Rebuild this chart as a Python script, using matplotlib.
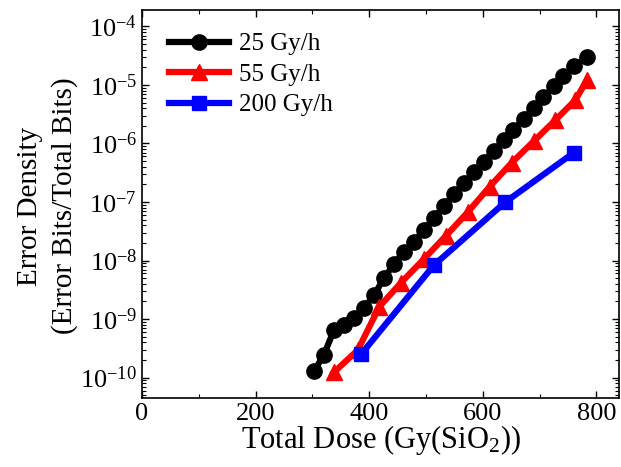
import numpy as np
import matplotlib
matplotlib.use("Agg")
import matplotlib.pyplot as plt
from matplotlib.ticker import LogLocator, MultipleLocator, NullFormatter

plt.rcParams['font.family'] = ['Liberation Serif', 'DejaVu Serif']
plt.rcParams['mathtext.fontset'] = 'custom'
plt.rcParams['mathtext.rm'] = 'Liberation Serif'
plt.rcParams['mathtext.it'] = 'Liberation Serif:italic'
plt.rcParams['mathtext.default'] = 'regular'

# Values (dose in Gy(SiO2), error density as log10)
dose_25 = [303, 320, 338, 356, 373, 391, 409, 426, 444, 461, 479, 496, 514, 532,
           549, 567, 584, 602, 619, 637, 654, 672, 690, 707, 725, 742, 760, 783]
logerr_25 = [-9.89, -9.62, -9.19, -9.10, -8.98, -8.81, -8.59, -8.30, -8.06, -7.85,
             -7.68, -7.48, -7.27, -7.07, -6.86, -6.68, -6.49, -6.32, -6.13, -5.94,
             -5.77, -5.58, -5.39, -5.21, -5.02, -4.85, -4.68, -4.53]

dose_55 = [338, 380, 418, 456, 496, 535, 574, 612, 651, 690, 728, 763, 784]
logerr_55 = [-9.91, -9.53, -8.79, -8.38, -7.98, -7.58, -7.17, -6.74, -6.33,
             -5.96, -5.60, -5.26, -4.91]

dose_200 = [386, 514, 640, 760]
logerr_200 = [-9.60, -8.08, -7.00, -6.16]

series = [
    ("25 Gy/h", dose_25, logerr_25, "black", "o", 11),
    ("55 Gy/h", dose_55, logerr_55, "red", "^", 11),
    ("200 Gy/h", dose_200, logerr_200, "blue", "s", 9.5),
]

fig = plt.figure(figsize=(6.21, 4.67), dpi=100)
ax = fig.add_axes([142 / 621, 1 - 398 / 467, (619 - 142) / 621, (398 - 9.5) / 467])

for label, x, ly, color, marker, ms in series:
    ax.plot(x, 10.0 ** np.array(ly), color=color, marker=marker, markersize=ms,
            linewidth=4.5, label=label)

ax.set_yscale('log')
ax.set_xlim(0, 840)
ax.set_ylim(10 ** -10.35, 10 ** -3.71)

ax.xaxis.set_major_locator(MultipleLocator(200))
ax.xaxis.set_minor_locator(MultipleLocator(100))
ax.yaxis.set_major_locator(LogLocator(base=10, numticks=20))
ax.yaxis.set_minor_locator(LogLocator(base=10, subs=np.arange(2, 10), numticks=20))
ax.yaxis.set_minor_formatter(NullFormatter())

ax.tick_params(which='both', direction='in', top=True, right=True, labelsize=19)
ax.tick_params(which='major', length=5, width=1)
ax.tick_params(which='minor', length=3, width=0.8)
for sp in ax.spines.values():
    sp.set_linewidth(1.2)

ax.set_xlabel("Total Dose (Gy(SiO$_2$))", fontsize=22, labelpad=-1)
ax.set_ylabel("Error Density\n(Error Bits/Total Bits)", fontsize=21,
              linespacing=1.35)
ax.yaxis.set_label_coords(-0.135, 0.494)

ax.legend(loc='upper left', frameon=False, fontsize=18, handlelength=2.4,
          handletextpad=0.4, labelspacing=0.32, borderaxespad=0.3,
          bbox_to_anchor=(0.02, 0.985))

fig.savefig("out.png", dpi=100)
